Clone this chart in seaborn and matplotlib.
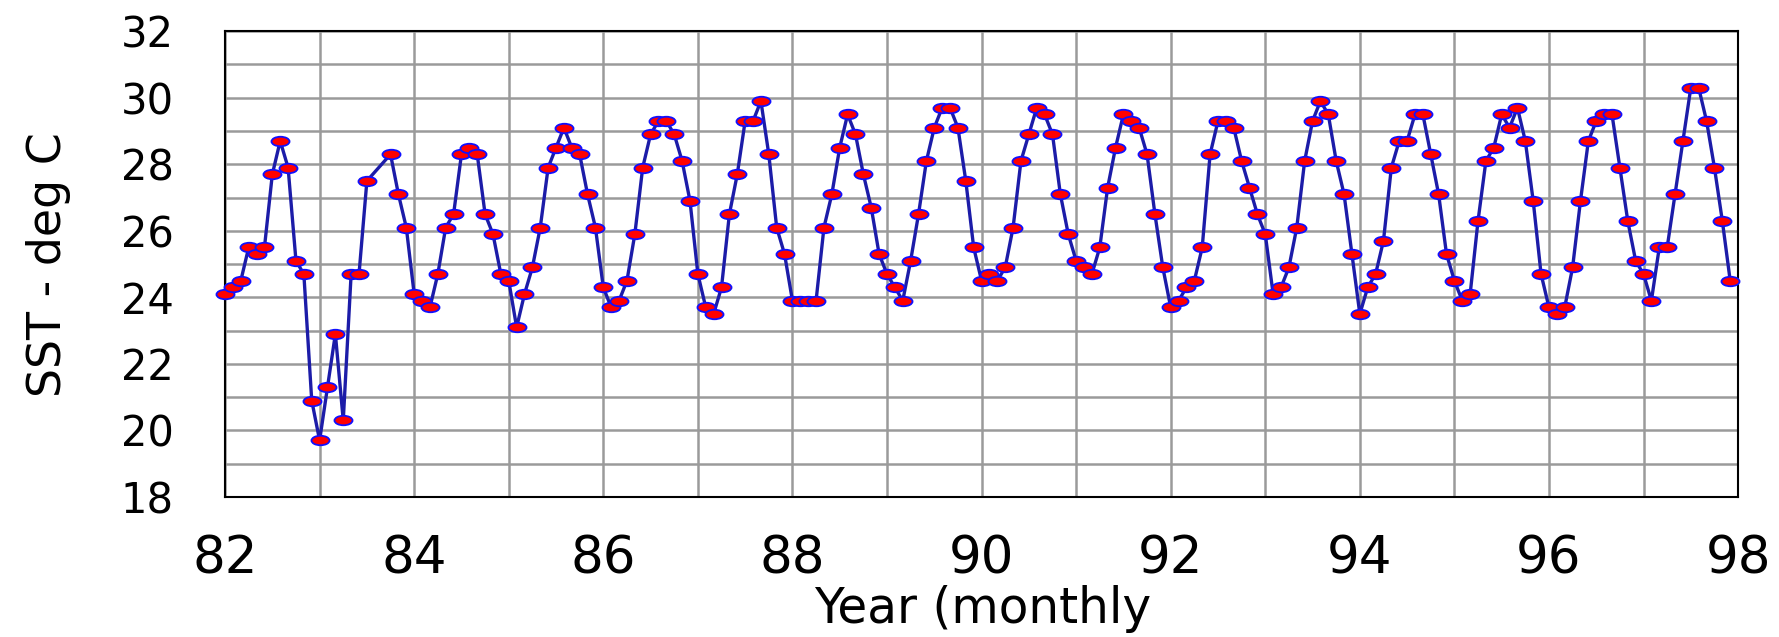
import numpy as np
import pandas as pd
import seaborn as sns
import matplotlib.pyplot as plt
from matplotlib.path import Path
from matplotlib.transforms import Affine2D
from matplotlib.ticker import MultipleLocator

# Monthly SST values, Jan 1982 - Dec 1997 (two months missing in 1983)
sst_82_85 = [24.1, 24.3, 24.5, 25.5, 25.3, 25.5, 27.7, 28.7, 27.9, 25.1, 24.7, 20.9,
             19.7, 21.3, 22.9, 20.3, 24.7, 24.7, 27.5, np.nan, np.nan, 28.3, 27.1, 26.1,
             24.1, 23.9, 23.7, 24.7, 26.1, 26.5, 28.3, 28.5, 28.3, 26.5, 25.9, 24.7,
             24.5, 23.1, 24.1, 24.9, 26.1, 27.9, 28.5, 29.1, 28.5, 28.3, 27.1, 26.1]
sst_86_89 = [24.3, 23.7, 23.9, 24.5, 25.9, 27.9, 28.9, 29.3, 29.3, 28.9, 28.1, 26.9,
             24.7, 23.7, 23.5, 24.3, 26.5, 27.7, 29.3, 29.3, 29.9, 28.3, 26.1, 25.3,
             23.9, 23.9, 23.9, 23.9, 26.1, 27.1, 28.5, 29.5, 28.9, 27.7, 26.7, 25.3,
             24.7, 24.3, 23.9, 25.1, 26.5, 28.1, 29.1, 29.7, 29.7, 29.1, 27.5, 25.5]
sst_90_93 = [24.5, 24.7, 24.5, 24.9, 26.1, 28.1, 28.9, 29.7, 29.5, 28.9, 27.1, 25.9,
             25.1, 24.9, 24.7, 25.5, 27.3, 28.5, 29.5, 29.3, 29.1, 28.3, 26.5, 24.9,
             23.7, 23.9, 24.3, 24.5, 25.5, 28.3, 29.3, 29.3, 29.1, 28.1, 27.3, 26.5,
             25.9, 24.1, 24.3, 24.9, 26.1, 28.1, 29.3, 29.9, 29.5, 28.1, 27.1, 25.3]
sst_94_97 = [23.5, 24.3, 24.7, 25.7, 27.9, 28.7, 28.7, 29.5, 29.5, 28.3, 27.1, 25.3,
             24.5, 23.9, 24.1, 26.3, 28.1, 28.5, 29.5, 29.1, 29.7, 28.7, 26.9, 24.7,
             23.7, 23.5, 23.7, 24.9, 26.9, 28.7, 29.3, 29.5, 29.5, 27.9, 26.3, 25.1,
             24.7, 23.9, 25.5, 25.5, 27.1, 28.7, 30.3, 30.3, 29.3, 27.9, 26.3, 24.5]

sst = sst_82_85 + sst_86_89 + sst_90_93 + sst_94_97
year = 82 + np.arange(len(sst)) / 12
df = pd.DataFrame({"year": year, "sst": sst}).dropna()

x_labels = [str(y) for y in range(82, 99, 2)]

sns.set_style("white")
plt.rcParams["font.family"] = ["DejaVu Sans"]
plt.rcParams["text.color"] = "black"
plt.rcParams["axes.labelcolor"] = "black"

fig, ax = plt.subplots(figsize=(17.79, 6.37), dpi=100)
fig.subplots_adjust(left=0.1265, right=0.977, bottom=0.2198, top=0.951)

# red ellipse marker
ellipse = Path.unit_circle().transformed(Affine2D().scale(1.9, 1.0))

sns.lineplot(data=df, x="year", y="sst", ax=ax, color="#1c1ca8", linewidth=2.4,
             marker=ellipse, markersize=13, markerfacecolor="#ff0000",
             markeredgecolor="#1010ff", markeredgewidth=1.3, clip_on=False, zorder=3)

ax.set_xlim(82, 98)
ax.set_ylim(18, 32)
ax.xaxis.set_major_locator(MultipleLocator(2))
ax.xaxis.set_minor_locator(MultipleLocator(1))
ax.yaxis.set_major_locator(MultipleLocator(2))
ax.yaxis.set_minor_locator(MultipleLocator(1))
ax.set_xticks(range(82, 99, 2))
ax.set_xticklabels(x_labels)

ax.grid(which="both", color="#9a9a9a", linewidth=1.8)
ax.set_axisbelow(True)
for s in ax.spines.values():
    s.set_color("black")
    s.set_linewidth(1.5)

ax.tick_params(axis="x", which="both", direction="inout", length=16, width=1,
               color="#888888", labelsize=37, labelcolor="black", pad=19)
ax.tick_params(axis="y", which="both", direction="inout", length=30, width=1,
               color="#888888", labelsize=30, labelcolor="black", pad=22)
ax.tick_params(axis="both", which="minor", labelleft=False, labelbottom=False)

ax.set_xlabel("Year (monthly", fontsize=35)
ax.set_ylabel("SST - deg C", fontsize=33)
ax.xaxis.set_label_coords(0.501, -0.19)
ax.yaxis.set_label_coords(-0.102, 0.5)

fig.savefig("out.png", dpi=100)
